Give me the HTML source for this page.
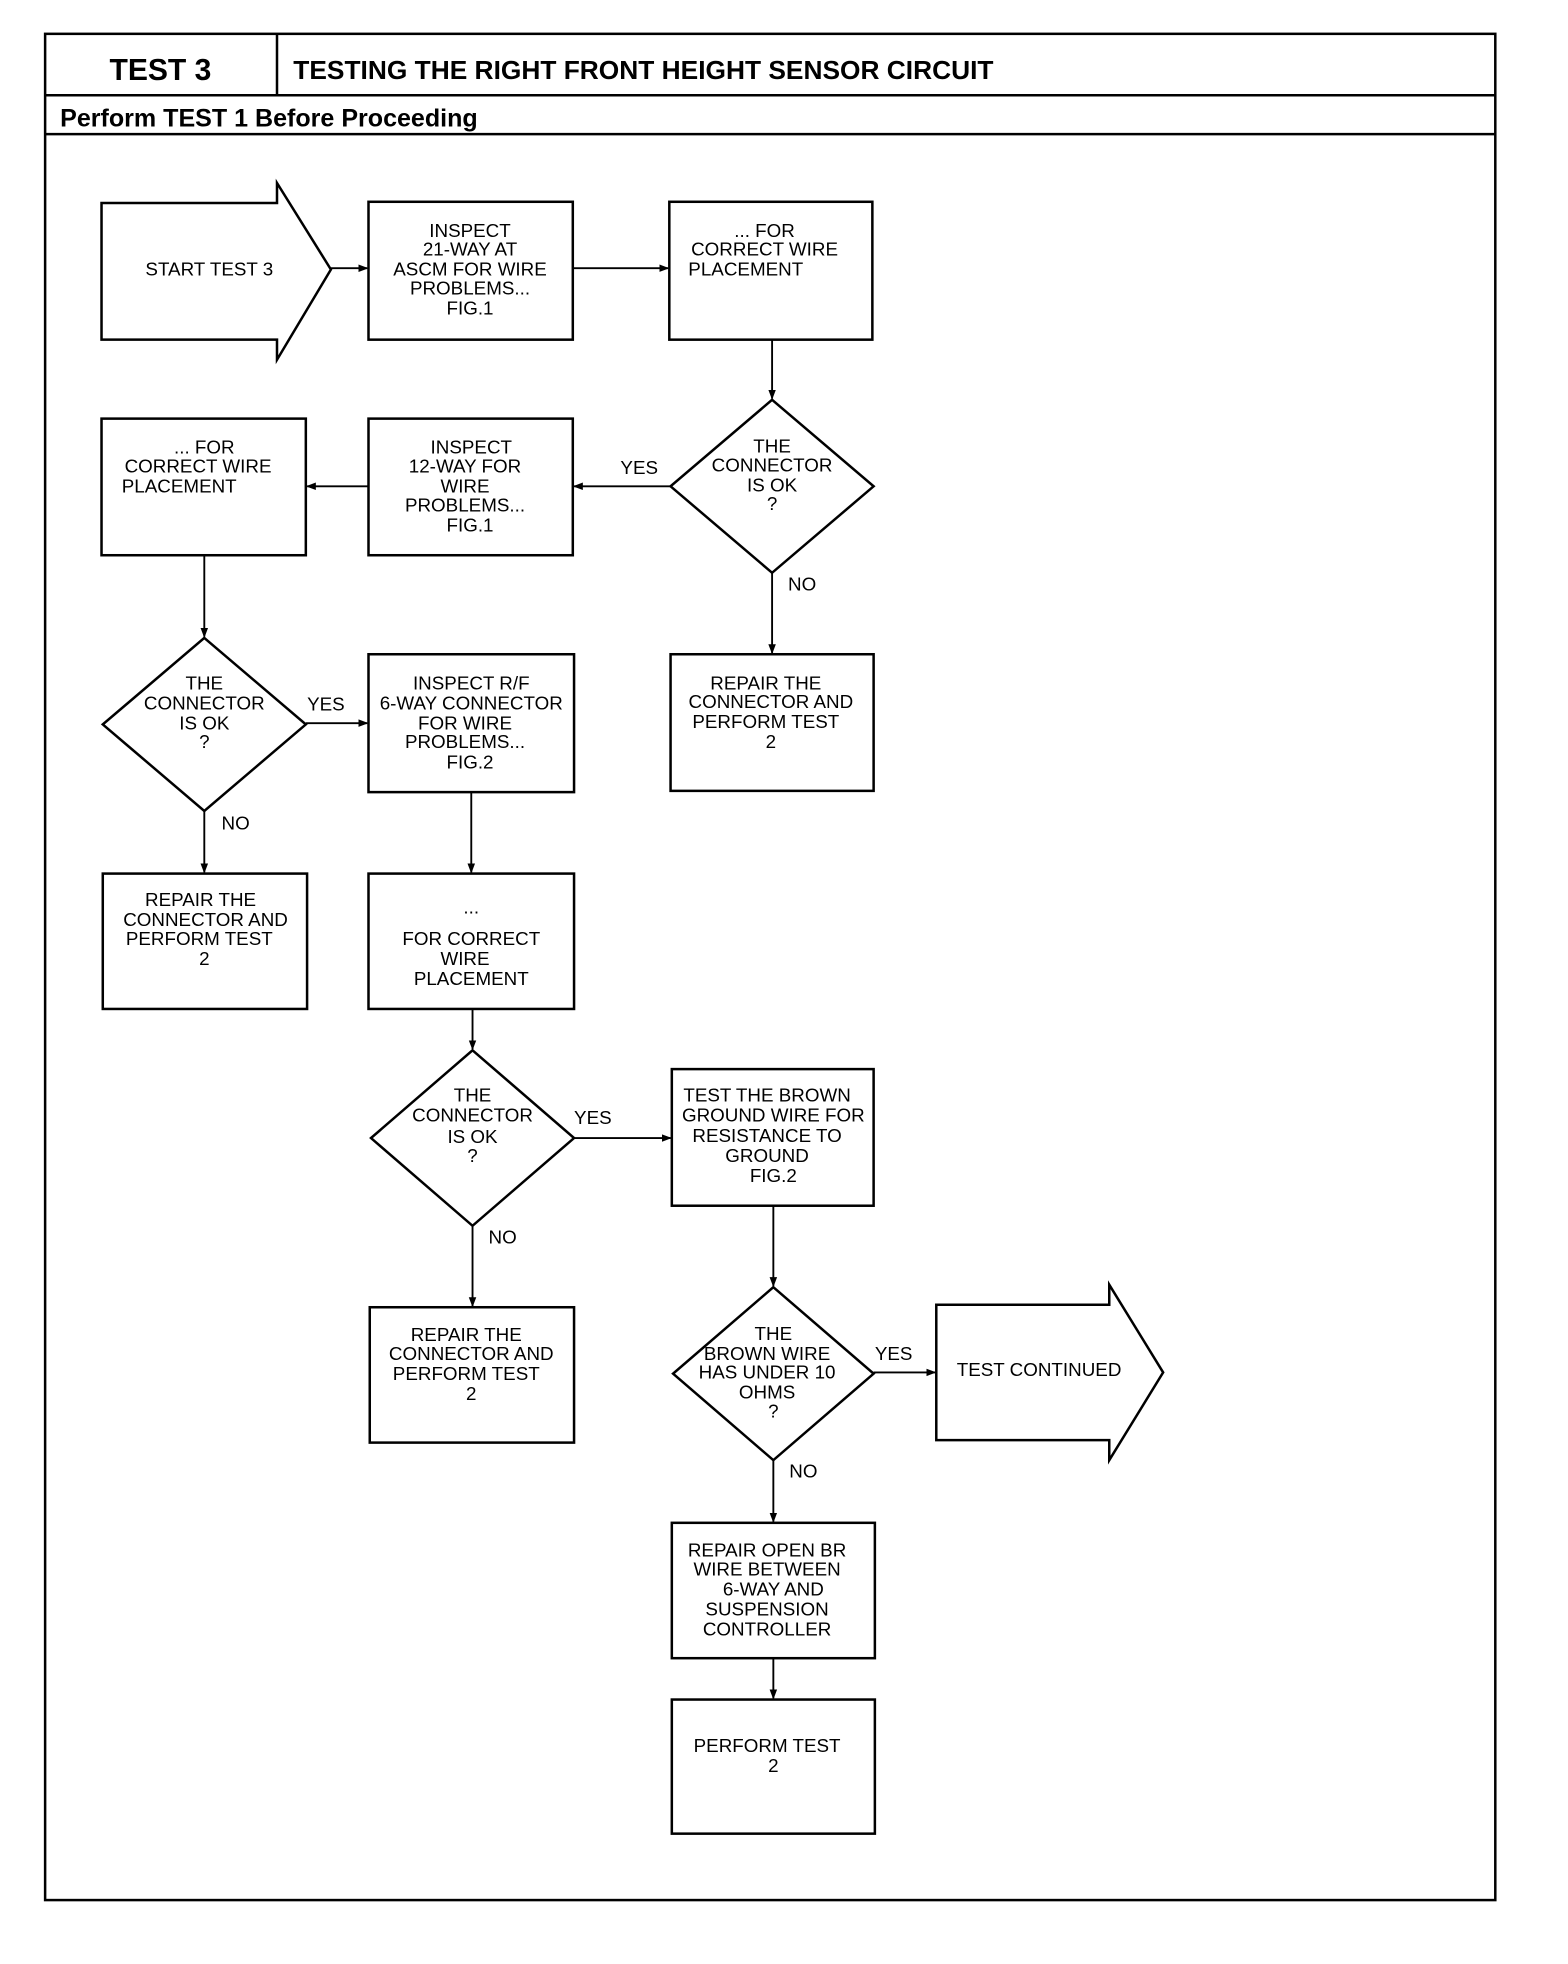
<!DOCTYPE html>
<html><head><meta charset="utf-8"><style>
html,body{margin:0;padding:0;background:#fff;}
svg{display:block;}
.t{font-family:"Liberation Sans",sans-serif;font-size:15px;fill:#000;text-anchor:middle;}
.h{font-family:"Liberation Sans",sans-serif;font-weight:bold;fill:#000;}
</style></head><body>
<svg width="1568" height="1964" viewBox="0 0 1251 1567" preserveAspectRatio="none" xmlns="http://www.w3.org/2000/svg">
<defs><marker id="a" markerWidth="8" markerHeight="8" refX="7" refY="4" orient="auto" markerUnits="userSpaceOnUse"><path d="M0,1 L8,4 L0,7 z" fill="#000"/></marker></defs>
<g fill="none" stroke="#000" stroke-width="2">
<rect x="36" y="27" width="1157" height="1489"/>
<line x1="36" y1="76" x2="1193" y2="76"/>
<line x1="221" y1="27" x2="221" y2="76"/>
<line x1="36" y1="107" x2="1193" y2="107"/>
<polygon points="81,162 221,162 221,146 264,215 221,287 221,271 81,271"/>
<rect x="294" y="161" width="163" height="110"/>
<rect x="534" y="161" width="162" height="110"/>
<polygon points="616,319 697,388 616,457 535,388"/>
<rect x="294" y="334" width="163" height="109"/>
<rect x="81" y="334" width="163" height="109"/>
<rect x="535" y="522" width="162" height="109"/>
<polygon points="163,509 244,578 163,647 82,578"/>
<rect x="294" y="522" width="164" height="110"/>
<rect x="82" y="697" width="163" height="108"/>
<rect x="294" y="697" width="164" height="108"/>
<polygon points="377,838 458,908 377,978 296,908"/>
<rect x="536" y="853" width="161" height="109"/>
<rect x="295" y="1043" width="163" height="108"/>
<polygon points="617,1027 697,1096 617,1165 537,1096"/>
<polygon points="747,1041 885,1041 885,1025 928,1095 885,1165 885,1149 747,1149"/>
<rect x="536" y="1215" width="162" height="108"/>
<rect x="536" y="1356" width="162" height="107"/>
</g>
<g stroke="#000" stroke-width="1.5" marker-end="url(#a)">
<line x1="264" y1="214" x2="293" y2="214"/>
<line x1="457" y1="214" x2="533" y2="214"/>
<line x1="616" y1="271" x2="616" y2="318"/>
<line x1="535" y1="388" x2="458" y2="388"/>
<line x1="294" y1="388" x2="245" y2="388"/>
<line x1="616" y1="457" x2="616" y2="521"/>
<line x1="163" y1="443" x2="163" y2="508"/>
<line x1="244" y1="577" x2="293" y2="577"/>
<line x1="163" y1="647" x2="163" y2="696"/>
<line x1="376" y1="632" x2="376" y2="696"/>
<line x1="377" y1="805" x2="377" y2="837"/>
<line x1="458" y1="908" x2="535" y2="908"/>
<line x1="377" y1="978" x2="377" y2="1042"/>
<line x1="617" y1="962" x2="617" y2="1026"/>
<line x1="697" y1="1095" x2="746" y2="1095"/>
<line x1="617" y1="1165" x2="617" y2="1214"/>
<line x1="617" y1="1323" x2="617" y2="1355"/>
</g>
<text class="h" x="128" y="64" font-size="24" text-anchor="middle">TEST 3</text>
<text class="h" x="234" y="63" font-size="21">TESTING THE RIGHT FRONT HEIGHT SENSOR CIRCUIT</text>
<text class="h" x="48" y="101" font-size="20">Perform TEST 1 Before Proceeding</text>
<g class="t">
<text x="167" y="220">START TEST 3</text>
<text x="375" y="189">INSPECT</text><text x="375" y="204">21-WAY AT</text><text x="375" y="220">ASCM FOR WIRE</text><text x="375" y="235">PROBLEMS...</text><text x="375" y="251">FIG.1</text>
<text x="610" y="189">... FOR</text><text x="610" y="204">CORRECT WIRE</text><text x="595" y="220">PLACEMENT</text>
<text x="616" y="361">THE</text><text x="616" y="376">CONNECTOR</text><text x="616" y="392">IS OK</text><text x="616" y="407">?</text>
<text x="376" y="362">INSPECT</text><text x="371" y="377">12-WAY FOR</text><text x="371" y="393">WIRE</text><text x="371" y="408">PROBLEMS...</text><text x="375" y="424">FIG.1</text>
<text x="163" y="362">... FOR</text><text x="158" y="377">CORRECT WIRE</text><text x="143" y="393">PLACEMENT</text>
<text x="510" y="378">YES</text><text x="640" y="471">NO</text>
<text x="611" y="550">REPAIR THE</text><text x="615" y="565">CONNECTOR AND</text><text x="611" y="581">PERFORM TEST</text><text x="615" y="597">2</text>
<text x="163" y="550">THE</text><text x="163" y="566">CONNECTOR</text><text x="163" y="582">IS OK</text><text x="163" y="597">?</text>
<text x="260" y="567">YES</text><text x="188" y="662">NO</text>
<text x="376" y="550">INSPECT R/F</text><text x="376" y="566">6-WAY CONNECTOR</text><text x="371" y="582">FOR WIRE</text><text x="371" y="597">PROBLEMS...</text><text x="375" y="613">FIG.2</text>
<text x="160" y="723">REPAIR THE</text><text x="164" y="739">CONNECTOR AND</text><text x="159" y="754">PERFORM TEST</text><text x="163" y="770">2</text>
<text x="376" y="729">...</text><text x="376" y="754">FOR CORRECT</text><text x="371" y="770">WIRE</text><text x="376" y="786">PLACEMENT</text>
<text x="377" y="879">THE</text><text x="377" y="895">CONNECTOR</text><text x="377" y="912">IS OK</text><text x="377" y="927">?</text>
<text x="473" y="897">YES</text><text x="401" y="992">NO</text>
<text x="612" y="879">TEST THE BROWN</text><text x="617" y="895">GROUND WIRE FOR</text><text x="612" y="911">RESISTANCE TO</text><text x="612" y="927">GROUND</text><text x="617" y="943">FIG.2</text>
<text x="372" y="1070">REPAIR THE</text><text x="376" y="1085">CONNECTOR AND</text><text x="372" y="1101">PERFORM TEST</text><text x="376" y="1117">2</text>
<text x="617" y="1069">THE</text><text x="612" y="1085">BROWN WIRE</text><text x="612" y="1100">HAS UNDER 10</text><text x="612" y="1116">OHMS</text><text x="617" y="1131">?</text>
<text x="713" y="1085">YES</text><text x="829" y="1098">TEST CONTINUED</text><text x="641" y="1179">NO</text>
<text x="612" y="1242">REPAIR OPEN BR</text><text x="612" y="1257">WIRE BETWEEN</text><text x="617" y="1273">6-WAY AND</text><text x="612" y="1289">SUSPENSION</text><text x="612" y="1305">CONTROLLER</text>
<text x="612" y="1398">PERFORM TEST</text><text x="617" y="1414">2</text>
</g>
</svg>
</body></html>
